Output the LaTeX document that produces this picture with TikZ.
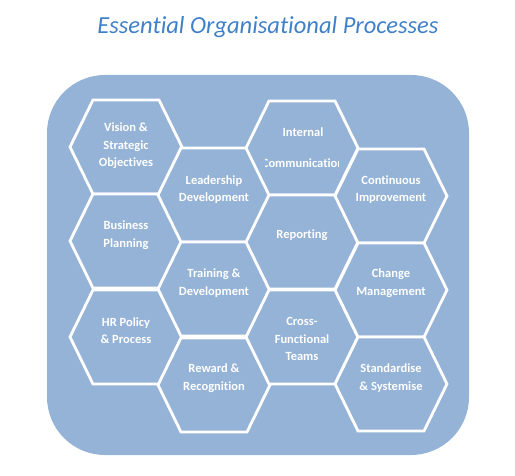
\documentclass[tikz,border=0pt]{standalone}
\usepackage{fontspec}
\setmainfont[Ligatures={NoCommon,NoRare}]{Carlito}
\usetikzlibrary{shadows}
\definecolor{bgblue}{HTML}{95B3D7}
\definecolor{titleblue}{HTML}{3F80C9}
\tikzset{
  hexbox/.style={draw=white, line width=2.8pt, fill=bgblue, line join=miter,
    drop shadow={opacity=0.22, shadow xshift=0.8pt, shadow yshift=-0.8pt}},
  hextext/.style={text=white, font=\bfseries\fontsize{12.5}{17.5}\selectfont, align=center, inner sep=0pt},
}
\newcommand{\hexat}[2]{%
  \path[hexbox] (#1-56,#2) -- (#1-33,#2-47) -- (#1+33,#2-47) -- (#1+56,#2) -- (#1+33,#2+47) -- (#1-33,#2+47) -- cycle;}
\begin{document}
\begin{tikzpicture}[x=1pt,y=-1pt]
\useasboundingbox (0,0) rectangle (515,476);
\node[text=titleblue, font=\itshape\fontsize{24.5}{28}\selectfont, inner sep=0pt] (title) at (268,27) {Essential Organisational Processes};
\path[fill=bgblue, rounded corners=58pt] (47,75) rectangle (469,455);
% hexagons
\hexat{126}{147}\hexat{126}{241}\hexat{126}{337}
\hexat{214}{195}\hexat{214}{289}\hexat{214}{385}
\hexat{302}{148}\hexat{302}{242}\hexat{302}{337}
\hexat{391}{196}\hexat{391}{290}\hexat{391}{384}
% texts
\node[hextext] (vision) at (126,146) {Vision \&\\Strategic\\Objectives};
\node[hextext] (business) at (126,235) {Business\\Planning};
\node[hextext] (hr) at (126,330.5) {HR Policy\\\& Process};
\node[hextext] (leadership) at (214,189.5) {Leadership\\Development};
\node[hextext] (training) at (214,283) {Training \&\\Development};
\node[hextext] (reward) at (214,378) {Reward \&\\Recognition};
\begin{scope}
\clip (265,110) rectangle (338,185);
\node[hextext, font=\bfseries\fontsize{12.5}{31}\selectfont] (internal) at (303,147.5) {Internal\\Communication};
\end{scope}
\node[hextext] (reporting) at (302,235) {Reporting};
\node[hextext] (cross) at (302,339) {Cross-\\Functional\\Teams};
\node[hextext] (continuous) at (391,189.5) {Continuous\\Improvement};
\node[hextext] (change) at (391,283) {Change\\Management};
\node[hextext] (standard) at (391,378) {Standardise\\\& Systemise};
\end{tikzpicture}
\end{document}
